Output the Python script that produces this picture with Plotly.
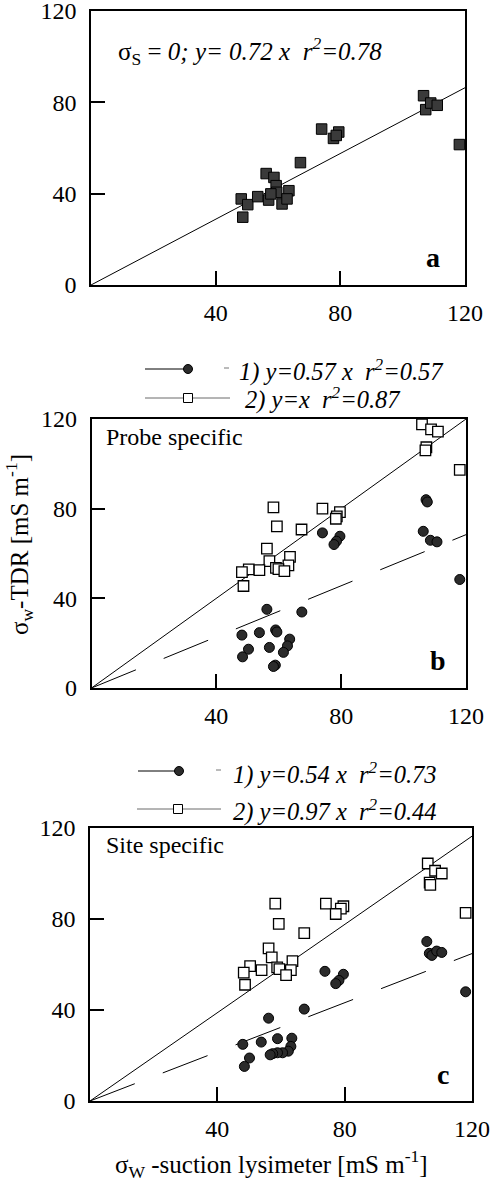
import plotly.graph_objects as go

W, H = 494, 1184

# ---------------- data ----------------
# panel a : sigma_s = 0
a_x = [106.7, 107.4, 109.0, 111.1, 118.2, 74.0, 77.8, 79.5, 78.7, 67.2, 56.2, 58.7,
       59.4, 59.6, 48.2, 50.3, 48.7, 53.5, 57.0, 57.7, 61.3, 63.5, 62.9]
a_y = [82.9, 76.8, 79.7, 78.7, 61.5, 68.3, 64.2, 67.0, 65.5, 53.6, 48.8, 47.1,
       43.5, 40.6, 37.7, 35.2, 29.7, 38.7, 37.2, 39.9, 35.5, 41.3, 37.7]
a_slope = 0.72

# panel b : probe specific
b_x1 = [107.2, 107.6, 106.3, 108.6, 110.7, 118.0, 74.0, 79.6, 78.5, 77.7, 56.2, 67.4,
        59.0, 59.4, 53.8, 48.2, 63.5, 62.8, 57.0, 50.3, 61.5, 48.4, 58.9, 58.3]
b_y1 = [84.0, 83.0, 69.9, 65.9, 65.2, 48.4, 69.2, 67.7, 65.5, 64.0, 35.1, 33.9,
        25.9, 25.0, 24.7, 23.6, 21.8, 18.8, 18.1, 17.3, 15.9, 13.9, 10.2, 9.6]
b_x2 = [105.9, 108.8, 111.0, 107.3, 107.0, 118.0, 58.3, 74.0, 79.6, 78.6, 78.3, 59.4,
        67.3, 56.2, 57.0, 63.6, 63.1, 59.1, 59.9, 61.8, 50.4, 53.8, 48.2, 48.7]
b_y2 = [117.6, 115.4, 114.4, 107.4, 106.0, 97.3, 80.6, 80.0, 78.5, 76.6, 75.5, 72.1,
        70.7, 62.2, 56.6, 58.5, 54.7, 53.6, 53.0, 52.1, 52.9, 52.6, 51.7, 45.5]
b_slope1, b_slope2 = 0.57, 1.0

# panel c : site specific
c_x1 = [105.8, 106.6, 107.4, 108.9, 110.5, 118.0, 73.8, 79.6, 78.2, 77.2, 56.1, 67.3,
        48.0, 53.8, 58.9, 63.4, 63.1, 62.3, 60.5, 58.9, 57.4, 56.6, 50.1, 48.5]
c_y1 = [70.1, 64.9, 64.0, 65.9, 65.3, 48.0, 57.0, 55.7, 53.0, 51.6, 36.4, 40.4,
        24.9, 25.9, 27.4, 27.6, 24.0, 21.9, 21.2, 21.2, 20.8, 20.3, 18.9, 15.2]
c_x2 = [106.1, 108.4, 110.5, 106.7, 106.9, 118.0, 58.2, 74.1, 79.6, 78.8, 77.2, 59.3,
        67.3, 56.1, 57.1, 63.6, 63.1, 58.8, 59.5, 61.6, 50.3, 53.9, 48.3, 48.7]
c_y2 = [104.4, 101.2, 100.0, 96.0, 95.0, 82.7, 86.8, 86.8, 85.6, 84.6, 82.2, 77.9,
        73.8, 67.1, 63.1, 61.5, 57.5, 58.7, 58.0, 55.3, 59.3, 57.5, 56.4, 51.1]
c_slope1, c_slope2 = 0.54, 0.97

axis_range = [0, 120]
y_ticks = [0, 40, 80, 120]
x_ticks = [40, 80, 120]
fit_x = [0, 120]

FONT = "Liberation Serif, 'Times New Roman', Times, serif"


def px(x):
    return x / W


def py(y):
    return 1 - y / H


fig = go.Figure()

sq_fill = dict(symbol="square", size=10.5, color="#3a3a3a", line=dict(color="black", width=1))
circ = dict(symbol="circle", size=10, color="#2b2b2b", line=dict(color="black", width=1))
sq_open = dict(symbol="square", size=10.5, color="white", line=dict(color="black", width=1.3))


def fit(s):
    return [s * v for v in fit_x]


# panel a
fig.add_trace(go.Scatter(x=fit_x, y=fit(a_slope), mode="lines", line=dict(color="black", width=1),
                         xaxis="x", yaxis="y", showlegend=False))
fig.add_trace(go.Scatter(x=a_x, y=a_y, mode="markers", marker=sq_fill, xaxis="x", yaxis="y",
                         showlegend=False, cliponaxis=False))
# panel b
fig.add_trace(go.Scatter(x=fit_x, y=fit(b_slope2), mode="lines", line=dict(color="black", width=1),
                         xaxis="x2", yaxis="y2", showlegend=False))
fig.add_trace(go.Scatter(x=fit_x, y=fit(b_slope1), mode="lines",
                         line=dict(color="black", width=1, dash="48px,30px"),
                         xaxis="x2", yaxis="y2", showlegend=False))
fig.add_trace(go.Scatter(x=b_x2, y=b_y2, mode="markers", marker=sq_open, xaxis="x2", yaxis="y2",
                         showlegend=False, cliponaxis=False))
fig.add_trace(go.Scatter(x=b_x1, y=b_y1, mode="markers", marker=circ, xaxis="x2", yaxis="y2",
                         showlegend=False, cliponaxis=False))
# panel c
fig.add_trace(go.Scatter(x=fit_x, y=fit(c_slope2), mode="lines", line=dict(color="black", width=1),
                         xaxis="x3", yaxis="y3", showlegend=False))
fig.add_trace(go.Scatter(x=fit_x, y=fit(c_slope1), mode="lines",
                         line=dict(color="black", width=1, dash="48px,30px"),
                         xaxis="x3", yaxis="y3", showlegend=False))
fig.add_trace(go.Scatter(x=c_x2, y=c_y2, mode="markers", marker=sq_open, xaxis="x3", yaxis="y3",
                         showlegend=False, cliponaxis=False))
fig.add_trace(go.Scatter(x=c_x1, y=c_y1, mode="markers", marker=circ, xaxis="x3", yaxis="y3",
                         showlegend=False, cliponaxis=False))

TICK_SIZE = 24


def xax(x0, x1, anchor):
    return dict(domain=[px(x0), px(x1)], range=axis_range, anchor=anchor, automargin=False,
                showline=True, mirror=True, linecolor="black", linewidth=1.5,
                ticks="inside", ticklen=14, tickwidth=1.5, tickcolor="black",
                tickvals=x_ticks, ticktext=[str(v) for v in x_ticks],
                tickfont=dict(family=FONT, size=TICK_SIZE, color="black"),
                ticklabeloverflow="allow",
                showgrid=False, zeroline=False, ticklabelstandoff=5)


def yax(y_top, y_bot, anchor):
    return dict(domain=[py(y_bot), py(y_top)], range=axis_range, anchor=anchor, automargin=False,
                showline=True, mirror=True, linecolor="black", linewidth=1.5,
                ticks="inside", ticklen=14, tickwidth=1.5, tickcolor="black",
                tickvals=y_ticks, ticktext=[str(v) for v in y_ticks],
                tickfont=dict(family=FONT, size=TICK_SIZE, color="black"),
                ticklabeloverflow="allow",
                showgrid=False, zeroline=False, ticklabelstandoff=8)


annotations = []


def ann(text, x, y, size=22, xanchor="left", yanchor="middle", angle=0):
    annotations.append(dict(text=text, x=px(x), y=py(y), xref="paper", yref="paper",
                            xanchor=xanchor, yanchor=yanchor, showarrow=False, textangle=angle,
                            font=dict(family=FONT, size=size, color="black")))


NB = "&#160;"
ann("σ<sub>S</sub> = <i>0; y= 0.72 x" + NB + NB + "r<sup>2</sup>=0.78</i>", 116, 51, size=25)
ann("<b>a</b>", 433, 258, size=28, xanchor="center")
ann("Probe specific", 104, 437, size=24)
ann("<b>b</b>", 438, 660, size=28, xanchor="center")
ann("Site specific", 104, 845, size=24)
ann("<b>c</b>", 443, 1074, size=28, xanchor="center")

# legends
ann("<i>1) y=0.57 x" + NB + NB + "r<sup>2</sup>=0.57</i>", 237, 371, size=24.5)
ann("<i>2) y=x" + NB + NB + "r<sup>2</sup>=0.87</i>", 243, 399, size=24.5)
ann("<i>1) y=0.54 x" + NB + NB + "r<sup>2</sup>=0.73</i>", 231, 773, size=24.5)
ann("<i>2) y=0.97 x" + NB + NB + "r<sup>2</sup>=0.44</i>", 231, 810, size=24.5)

# axis titles
ann("σ<sub>w</sub>-TDR [mS m<sup>-1</sup>]", 19, 545, size=25, xanchor="center", angle=-90)
ann("σ<sub>W</sub> -suction lysimeter [mS m<sup>-1</sup>]", 271, 1164, size=25, xanchor="center")

shapes = []


def hline(x0, x1, y, color="black", width=1):
    shapes.append(dict(type="line", xref="paper", yref="paper", x0=px(x0), x1=px(x1),
                       y0=py(y), y1=py(y), line=dict(color=color, width=width)))


def marker_shape(kind, cx, cy, r, fill):
    shapes.append(dict(type=kind, xref="paper", yref="paper", x0=px(cx - r), x1=px(cx + r),
                       y0=py(cy + r), y1=py(cy - r), fillcolor=fill,
                       line=dict(color="black", width=1)))


# legend b
hline(145, 185, 369)
marker_shape("circle", 188, 369, 4.5, "#2b2b2b")
hline(224, 229, 368, color="#777777")
hline(145, 230, 398, color="#444444", width=0.8)
marker_shape("rect", 188, 398, 4.5, "white")
# legend c
hline(138, 176, 771)
marker_shape("circle", 179, 771, 4.5, "#2b2b2b")
hline(216, 221, 770, color="#777777")
hline(137, 221, 809, color="#444444", width=0.8)
marker_shape("rect", 178, 809, 4.5, "white")

fig.update_layout(
    template="none",
    width=W, height=H,
    margin=dict(l=0, r=0, t=0, b=0, autoexpand=False),
    paper_bgcolor="white", plot_bgcolor="white",
    showlegend=False,
    font=dict(family=FONT),
    xaxis=xax(91, 465, "y"), yaxis=yax(11, 285, "x"),
    xaxis2=xax(91.5, 466, "y2"), yaxis2=yax(419, 688, "x2"),
    xaxis3=xax(90, 472, "y3"), yaxis3=yax(828, 1101, "x3"),
    annotations=annotations, shapes=shapes,
)

fig.write_html("out.html",
               config={"displayModeBar": False},
               post_script="document.body.style.margin='0';document.body.style.overflow='hidden';")
